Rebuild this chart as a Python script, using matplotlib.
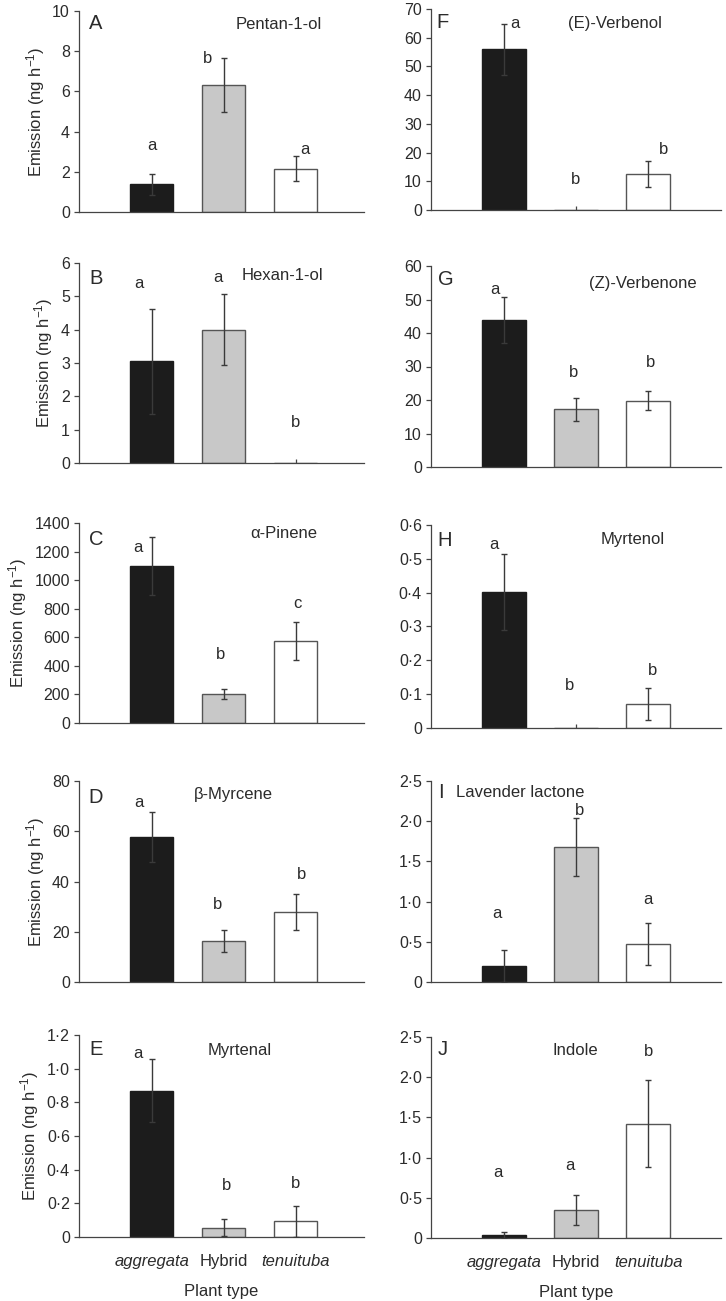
import matplotlib
matplotlib.use("Agg")
import matplotlib.pyplot as plt
from matplotlib.ticker import FuncFormatter, MultipleLocator

plt.rcParams['font.family'] = ['Liberation Sans', 'DejaVu Sans']
plt.rcParams['mathtext.fontset'] = 'custom'
plt.rcParams['mathtext.rm'] = 'Liberation Sans'
plt.rcParams['mathtext.it'] = 'Liberation Sans:italic'

# === data ===
plant_types = ['aggregata', 'Hybrid', 'tenuituba']
tags = ['A', 'B', 'C', 'D', 'E', 'F', 'G', 'H', 'I', 'J']
compounds = ['Pentan-1-ol', 'Hexan-1-ol', 'α-Pinene', 'β-Myrcene', 'Myrtenal',
             '(E)-Verbenol', '(Z)-Verbenone', 'Myrtenol', 'Lavender lactone', 'Indole']

mean_A = [1.37, 6.32, 2.15]
se_A = [0.50, 1.33, 0.62]
mean_B = [3.05, 4.00, 0.0]
se_B = [1.58, 1.07, 0.0]
mean_C = [1100, 203, 574]
se_C = [205, 38, 130]
mean_D = [57.8, 16.4, 27.8]
se_D = [9.9, 4.3, 7.1]
mean_E = [0.869, 0.056, 0.093]
se_E = [0.186, 0.053, 0.093]
mean_F = [56.0, 0.0, 12.5]
se_F = [8.9, 0.0, 4.5]
mean_G = [43.8, 17.2, 19.8]
se_G = [6.8, 3.4, 2.9]
mean_H = [0.402, 0.0, 0.071]
se_H = [0.112, 0.0, 0.046]
mean_I = [0.198, 1.68, 0.471]
se_I = [0.20, 0.36, 0.26]
mean_J = [0.033, 0.347, 1.42]
se_J = [0.037, 0.19, 0.54]

letters_A = ['a', 'b', 'a']
letters_B = ['a', 'a', 'b']
letters_C = ['a', 'b', 'c']
letters_D = ['a', 'b', 'b']
letters_E = ['a', 'b', 'b']
letters_F = ['a', 'b', 'b']
letters_G = ['a', 'b', 'b']
letters_H = ['a', 'b', 'b']
letters_I = ['a', 'b', 'a']
letters_J = ['a', 'a', 'b']

y_max = [10, 6, 1400, 80, 1.2, 70, 60, 0.6, 2.5, 2.5]
y_step = [2, 1, 200, 20, 0.2, 10, 10, 0.1, 0.5, 0.5]

means = [mean_A, mean_B, mean_C, mean_D, mean_E, mean_F, mean_G, mean_H, mean_I, mean_J]
ses = [se_A, se_B, se_C, se_D, se_E, se_F, se_G, se_H, se_I, se_J]
letters = [letters_A, letters_B, letters_C, letters_D, letters_E,
           letters_F, letters_G, letters_H, letters_I, letters_J]

# === layout (pixel boxes: left, top, right, bottom) ===
W, H = 726, 1301
boxes = [(79, 11, 364, 212), (79, 263, 364, 463), (79, 523, 364, 723),
         (79, 781, 364, 982), (79, 1035, 364, 1237),
         (431, 9, 721, 210), (431, 266, 721, 467), (431, 525, 721, 728),
         (431, 781, 721, 982), (431, 1037, 721, 1238)]
xlims = [(-1.01, 2.95)] * 5 + [(-1.01, 3.01)] * 5
# significance letter placement: (x offset from bar centre, axes-fraction y)
sig_pos = [
    [(0.0, 0.33), (-0.23, 0.763), (0.125, 0.311)],
    [(-0.18, 0.897), (-0.08, 0.927), (0.0, 0.20)],
    [(-0.19, 0.875), (-0.05, 0.342), (0.02, 0.595)],
    [(-0.18, 0.891), (-0.08, 0.388), (0.08, 0.536)],
    [(-0.19, 0.909), (0.04, 0.256), (0.0, 0.264)],
    [(0.16, 0.927), (0.0, 0.15), (0.22, 0.299)],
    [(-0.13, 0.884), (-0.03, 0.468), (0.04, 0.519)],
    [(-0.14, 0.905), (-0.09, 0.209), (0.06, 0.285)],
    [(-0.10, 0.342), (0.05, 0.855), (0.0, 0.412)],
    [(-0.08, 0.326), (-0.09, 0.36), (0.0, 0.93)],
]
title_pos = [(0.70, 0.934), (0.714, 0.938), (0.717, 0.945), (0.54, 0.932), (0.565, 0.921),
             (0.633, 0.93), (0.729, 0.912), (0.694, 0.929), (0.306, 0.945), (0.499, 0.934)]
tag_pos = [(0.059, 0.937), (0.059, 0.92), (0.059, 0.917), (0.059, 0.92), (0.059, 0.929),
           (0.041, 0.934), (0.05, 0.932), (0.047, 0.923), (0.033, 0.945), (0.041, 0.94)]

bar_colors = ['#1c1c1c', '#c8c8c8', '#ffffff']
edge_colors = ['#1c1c1c', '#555555', '#555555']
ink = '#2b2b2b'
fs = 12


def tick_fmt(step):
    def f(v, pos):
        if abs(v) < 1e-9:
            return '0'
        if step < 1:
            return f'{v:.1f}'.replace('.', '·')
        return f'{v:g}'
    return f


fig = plt.figure(figsize=(W / 100, H / 100), dpi=100)
x = [0, 1, 2]

for i in range(10):
    l, t, r, b = boxes[i]
    ax = fig.add_axes([l / W, 1 - b / H, (r - l) / W, (b - t) / H])
    ax.bar(x, means[i], width=0.6, color=bar_colors, edgecolor=edge_colors, linewidth=1.0, zorder=2)
    for k in range(3):
        if ses[i][k] > 0:
            ax.errorbar(x[k], means[i][k], yerr=ses[i][k], fmt='none', ecolor='#3a3a3a',
                        elinewidth=1.0, capsize=2, capthick=1.0, zorder=3)
        dx, fy = sig_pos[i][k]
        ax.text(x[k] + dx, fy, letters[i][k], transform=ax.get_xaxis_transform(),
                ha='center', va='center', fontsize=fs, color=ink)
    ax.text(title_pos[i][0], title_pos[i][1], compounds[i], transform=ax.transAxes,
            ha='center', va='center', fontsize=fs, color=ink)
    ax.text(tag_pos[i][0], tag_pos[i][1], tags[i], transform=ax.transAxes,
            ha='center', va='center', fontsize=14.5, color=ink)

    ax.set_xlim(*xlims[i])
    ax.set_ylim(0, y_max[i])
    ax.yaxis.set_major_locator(MultipleLocator(y_step[i]))
    ax.yaxis.set_major_formatter(FuncFormatter(tick_fmt(y_step[i])))
    for s in ['top', 'right']:
        ax.spines[s].set_visible(False)
    for s in ['left', 'bottom']:
        ax.spines[s].set_color('#444444')
        ax.spines[s].set_linewidth(0.9)
    ax.tick_params(axis='y', direction='out', length=3.5, width=0.9, color='#444444',
                   labelsize=11.5, labelcolor=ink, pad=3)
    ax.set_xticks(x)
    ax.tick_params(axis='x', direction='in', length=3, width=0.9, color='#444444',
                   labelsize=fs, labelcolor=ink, pad=12)
    if i in (4, 9):
        ax.set_xticklabels(plant_types)
        for lab, st in zip(ax.get_xticklabels(), ['italic', 'normal', 'italic']):
            lab.set_style(st)
        ax.set_xlabel('Plant type', fontsize=fs, color=ink, labelpad=11)
    else:
        ax.set_xticklabels([])
    if i < 5:
        ax.set_ylabel('Emission (ng h$^{-1}$)', fontsize=fs, color=ink, labelpad=4)

fig.savefig('out.png', dpi=100)
